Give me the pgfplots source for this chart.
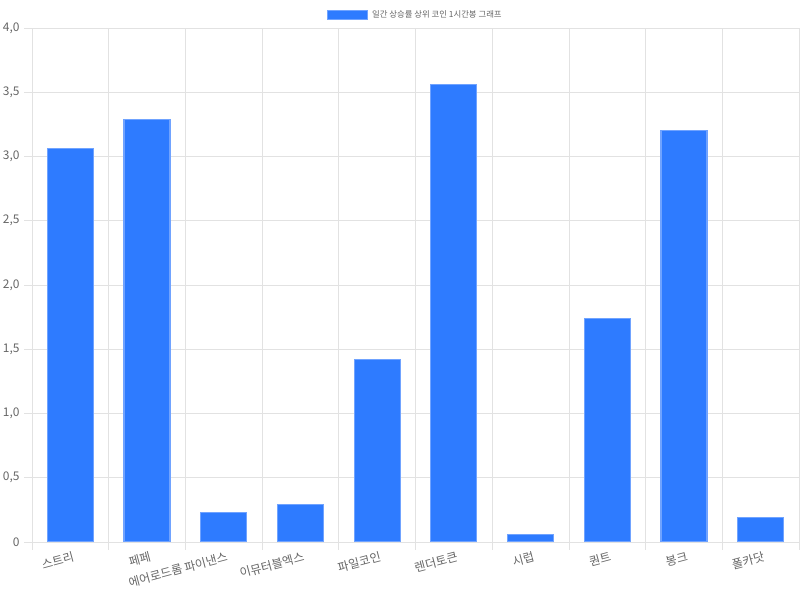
\documentclass[border=0pt]{standalone}
\usepackage{fontspec}
\setmainfont{Noto Sans CJK KR}
\usepackage{pgfplots}
\pgfplotsset{compat=1.18}
\definecolor{barfill}{RGB}{46,123,255}
\definecolor{barline}{RGB}{112,163,255}
\definecolor{txt}{RGB}{102,102,102}
\definecolor{gridc}{RGB}{226,226,226}
\begin{document}
\begin{tikzpicture}[x=1bp,y=1bp]
\useasboundingbox (0,0) rectangle (800,600);
\begin{axis}[
  at={(32bp,58bp)}, anchor=south west,
  scale only axis, width=767bp, height=514bp,
  xmin=-0.5, xmax=9.5, ymin=0, ymax=4,
  ytick={0,0.5,...,4},
  yticklabels={0,{0,5},{1,0},{1,5},{2,0},{2,5},{3,0},{3,5},{4,0}},
  yticklabel style={font=\fontsize{12}{14}\selectfont, text=txt, xshift=-1bp},
  xtick={-0.5,0.5,...,9.5},
  xticklabels={},
  grid=major,
  major grid style={draw=gridc, line width=0.8bp},
  major tick length=8bp,
  tick align=outside,
  tick style={draw=gridc, line width=0.8bp},
  extra x ticks={0,...,9},
  extra x tick labels={스트리,페페,에어로드롬 파이낸스,이뮤터블엑스,파일코인,렌더토큰,시럽,퀀트,봉크,폴카닷},
  extra x tick style={grid=none, major tick length=0pt,
    xticklabel style={font=\fontsize{12}{14}\selectfont, text=txt, rotate=15, anchor=north east, yshift=-6bp, xshift=3bp}},
  axis line style={draw=gridc},
  axis x line*=bottom, axis y line*=left,
  legend style={at={(0.5,1)}, anchor=south, yshift=5bp, draw=none, font=\fontsize{8.4}{10}\selectfont, text=txt, legend columns=1},
  legend image code/.code={\fill[barfill, draw=barline, line width=0.8bp] (-1bp,-4.5bp) rectangle (39bp,4.5bp);},
  legend cell align=left,
]
\addplot[ybar, bar width=46bp, fill=barfill, draw=barline, line width=1.2bp] coordinates {
(0,3.06) (1,3.29) (2,0.23) (3,0.29) (4,1.42) (5,3.56) (6,0.06) (7,1.74) (8,3.20) (9,0.19)
};
\addlegendentry{\hspace{2bp}일간 상승률 상위 코인 1시간봉 그래프}
\end{axis}
\end{tikzpicture}
\end{document}
